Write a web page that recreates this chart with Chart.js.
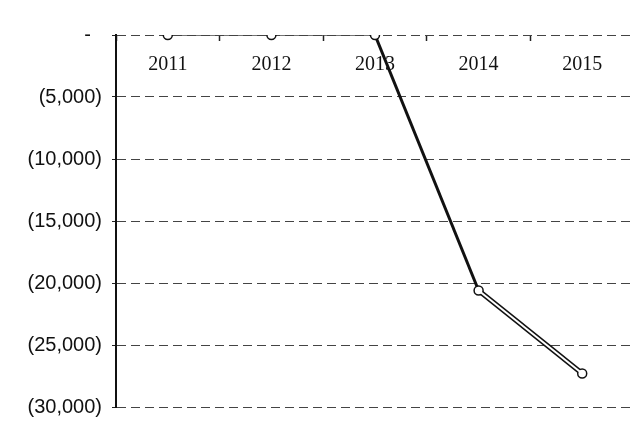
<!DOCTYPE html>
<html>
<head>
<meta charset="utf-8">
<script src="https://cdn.jsdelivr.net/npm/chart.js@4"></script>
<style>
  body { margin: 0; background: #fff; overflow: hidden; }
  #wrap { width: 640px; height: 429px; }
</style>
</head>
<body>
<div id="wrap"><canvas id="lossCanvas" width="640" height="429"></canvas></div>
<script>
const years = ["2011", "2012", "2013", "2014", "2015"];
const netValues = [0, 0, 0, -20600, -27300];
const yTicks = [0, -5000, -10000, -15000, -20000, -25000, -30000];

// accounting style: zero as a dash, negatives in brackets
function accounting(v) {
  if (v === 0) return "-  ";
  const s = Math.abs(v).toLocaleString("en-US");
  return v < 0 ? "(" + s + ")" : s;
}

// white core for the last segment, drawn over the thick black one
var lastSeg = netValues.map(function (v, i) { return i >= netValues.length - 2 ? v : null; });

const lossCanvas = document.getElementById("lossCanvas");

new Chart(lossCanvas, {
  type: "line",
  data: {
    labels: years,
    datasets: [{
      data: lastSeg,
      borderColor: "#ffffff",
      borderWidth: 2,
      pointRadius: 0,
      spanGaps: false,
      order: 0
    }, {
      data: netValues,
      borderColor: "#111",
      borderWidth: 3,
      pointRadius: 4.5,
      pointBorderWidth: 1.5,
      pointBackgroundColor: "#fff",
      pointBorderColor: "#111",
      order: 1,
      segment: {
        borderWidth: function (ctx) {
          if (ctx.p0DataIndex < 2) return 1.5;
          if (ctx.p0DataIndex === 3) return 5;
          return 3;
        },
        borderColor: function (ctx) {
          return ctx.p0DataIndex < 2 ? "#444" : "#111";
        }
      }
    }]
  },
  options: {
    responsive: false,
    animation: false,
    layout: { padding: { top: 35, bottom: 19, left: 0, right: 2 } },
    plugins: { legend: { display: false }, tooltip: { enabled: false } },
    scales: {
      x: {
        position: { y: 0 },
        offset: true,
        grid: { drawOnChartArea: false, drawTicks: true, tickLength: 6, offset: true, color: "#222", tickWidth: 1.5 },
        border: { display: false },
        ticks: { color: "#111", padding: 12, font: { family: "Liberation Serif", size: 20 } }
      },
      y: {
        min: -30000,
        max: 0,
        afterBuildTicks: function (scale) {
          scale.ticks = yTicks.map(function (v) { return { value: v }; });
        },
        afterFit: function (scale) { scale.width = 116; },
        grid: { color: "#444", lineWidth: 1, tickLength: 4, tickColor: "#222" },
        border: { display: true, color: "#111", width: 2, dash: [9, 5] },
        ticks: {
          color: "#111",
          padding: 10,
          font: { family: "Liberation Sans", size: 20 },
          callback: function (v) { return accounting(v); }
        }
      }
    }
  }
});
</script>
</body>
</html>
